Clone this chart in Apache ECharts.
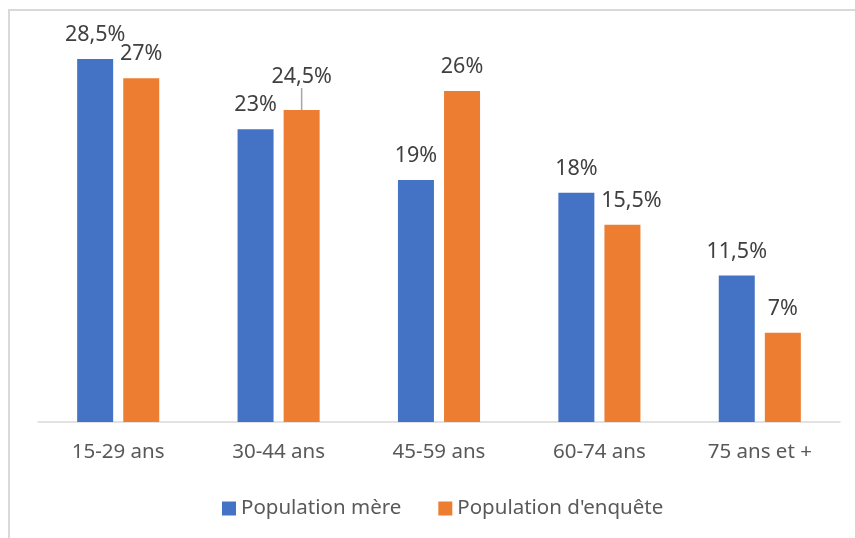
<!DOCTYPE html>
<html><head><meta charset="utf-8">
<script src="https://cdn.jsdelivr.net/npm/echarts@6/dist/echarts.min.js"></script>
<style>html,body{margin:0;padding:0;background:#fff}#c{width:855px;height:538px}</style>
</head><body><div id="c"></div>
<script>
const categories = ['15-29 ans','30-44 ans','45-59 ans','60-74 ans','75 ans et +'];
const meres = [28.5, 23, 19, 18, 11.5];
const enquete = [27, 24.5, 26, 15.5, 7];
const seriesNames = ['Population mère', "Population d'enquête"];

const FONT = 'Noto Sans';
const fmt = p => String(p.value).replace('.', ',') + '%';
const labelStyle = {show: true, position: 'top', distance: 13, formatter: fmt, fontFamily: FONT, fontSize: 21.5, color: '#404040'};
const chart = echarts.init(document.getElementById('c'));
chart.setOption({
  animation: false,
  textStyle: {fontFamily: FONT},
  graphic: [{type: 'rect', shape: {x: 9, y: 10, width: 900, height: 600}, style: {fill: 'none', stroke: '#D9D9D9', lineWidth: 2}, silent: true}],
  grid: {left: 38, right: 15, top: 40, bottom: 116},
  legend: {
    bottom: 14, left: 217, itemWidth: 14, itemHeight: 14, itemGap: 37,
    icon: 'rect',
    textStyle: {fontFamily: FONT, fontSize: 20.5, color: '#595959'},
    data: seriesNames
  },
  xAxis: {
    type: 'category', data: categories,
    axisLine: {lineStyle: {color: '#D9D9D9', width: 1.5}},
    axisTick: {show: false},
    axisLabel: {fontFamily: FONT, fontSize: 20.5, color: '#595959', margin: 20}
  },
  yAxis: {type: 'value', min: 0, max: 30, show: false, splitLine: {show: false}},
  series: [
    {
      name: seriesNames[0], type: 'bar', data: meres, barWidth: 36, barGap: '28%',
      itemStyle: {color: '#4472C4'},
      label: labelStyle
    },
    {
      name: seriesNames[1], type: 'bar', barWidth: 36, barGap: '28%',
      data: enquete.map((v, i) => i === 1 ? {value: v, labelLine: {show: true}} : v),
      itemStyle: {color: '#ED7D31'},
      label: labelStyle,
      labelLine: {show: false, lineStyle: {color: '#A6A6A6', width: 1.5}},
      labelLayout: p => p.dataIndex === 1 ? {dy: -9} : (p.dataIndex === 3 ? {dx: 9} : {})
    }
  ]
});
</script></body></html>
